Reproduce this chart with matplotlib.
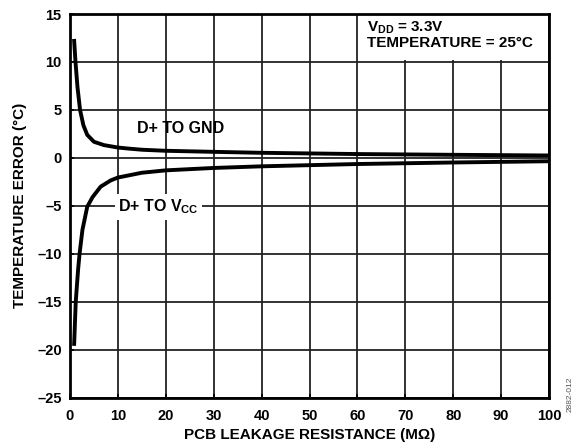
import matplotlib
matplotlib.use("Agg")
import matplotlib.pyplot as plt
from matplotlib.patches import Rectangle

plt.rcParams['font.family'] = ['Liberation Sans', 'DejaVu Sans']
plt.rcParams['font.weight'] = 'bold'
plt.rcParams['mathtext.fontset'] = 'custom'
plt.rcParams['mathtext.rm'] = 'Liberation Sans:bold'
plt.rcParams['mathtext.bf'] = 'Liberation Sans:bold'
plt.rcParams['mathtext.it'] = 'Liberation Sans:bold'

# Data
gnd_x = [0.87, 1.15, 1.56, 2.1, 2.8, 3.6, 5.0, 7.1, 10, 12, 15, 20, 30, 40, 60, 80, 100]
gnd_y = [12.2, 10.0, 7.4, 5.0, 3.4, 2.4, 1.68, 1.33, 1.08, 0.98, 0.85, 0.74, 0.63, 0.53, 0.40, 0.32, 0.25]
vcc_x = [0.87, 1.2, 1.7, 2.0, 2.6, 3.6, 4.7, 6.4, 8.5, 10, 12, 15, 20, 30, 40, 60, 80, 100]
vcc_y = [-19.4, -15.0, -11.6, -10.0, -7.5, -5.1, -4.1, -3.0, -2.35, -2.05, -1.85, -1.55, -1.3,
         -1.05, -0.88, -0.64, -0.48, -0.35]

x_ticks = [0, 10, 20, 30, 40, 50, 60, 70, 80, 90, 100]
y_ticks = [-25, -20, -15, -10, -5, 0, 5, 10, 15]

fig = plt.figure(figsize=(5.77, 4.46), dpi=100)
ax = fig.add_axes([0.1213, 0.1085, 0.8302, 0.860])

ax.set_xlim(0, 100)
ax.set_ylim(-25, 15)
ax.set_xticks(x_ticks)
ax.set_yticks(y_ticks)
ax.set_yticklabels([str(v).replace('-', '\u2013') for v in y_ticks])
ax.tick_params(direction='in', length=3, width=1.2, labelsize=10.5)
ax.tick_params(axis='x', pad=8)
ax.tick_params(axis='y', pad=6)
for lab in ax.get_xticklabels() + ax.get_yticklabels():
    lab.set_fontweight('bold')

ax.grid(True, color='#222222', linewidth=1.3)
ax.set_axisbelow(True)
for s in ax.spines.values():
    s.set_linewidth(2.0)
    s.set_color('black')

ax.plot(gnd_x, gnd_y, color='black', linewidth=2.8, zorder=3, solid_joinstyle='round')
ax.plot(vcc_x, vcc_y, color='black', linewidth=2.8, zorder=3, solid_joinstyle='round')

ax.text(23, 3.1, 'D+ TO GND', ha='center', va='center', fontsize=11.5,
        fontweight='bold', zorder=4)
ax.text(18.5, -5.1, r'D+ TO V$_{\mathrm{CC}}$', ha='center', va='center', fontsize=11.5,
        fontweight='bold', zorder=4,
        bbox=dict(facecolor='white', edgecolor='none', pad=2.5))

ax.add_patch(Rectangle((60.4, 10.25), 39.3, 4.6, facecolor='white', edgecolor='none', zorder=2))
ax.text(62, 14.4, 'V$_{\\mathrm{DD}}$ = 3.3V\nTEMPERATURE = 25°C', ha='left', va='top',
        fontsize=11, fontweight='bold', linespacing=1.0, zorder=4)

ax.set_xlabel('PCB LEAKAGE RESISTANCE (M\u03a9)', fontsize=11, fontweight='bold', labelpad=4)
ax.set_ylabel('TEMPERATURE ERROR (°C)', fontsize=11, fontweight='bold', labelpad=7)

fig.text(0.988, 0.115, '2882-012', rotation=90, fontsize=6, color='#555555',
         fontweight='normal', ha='center', va='center')

fig.savefig('out.png', dpi=100)
